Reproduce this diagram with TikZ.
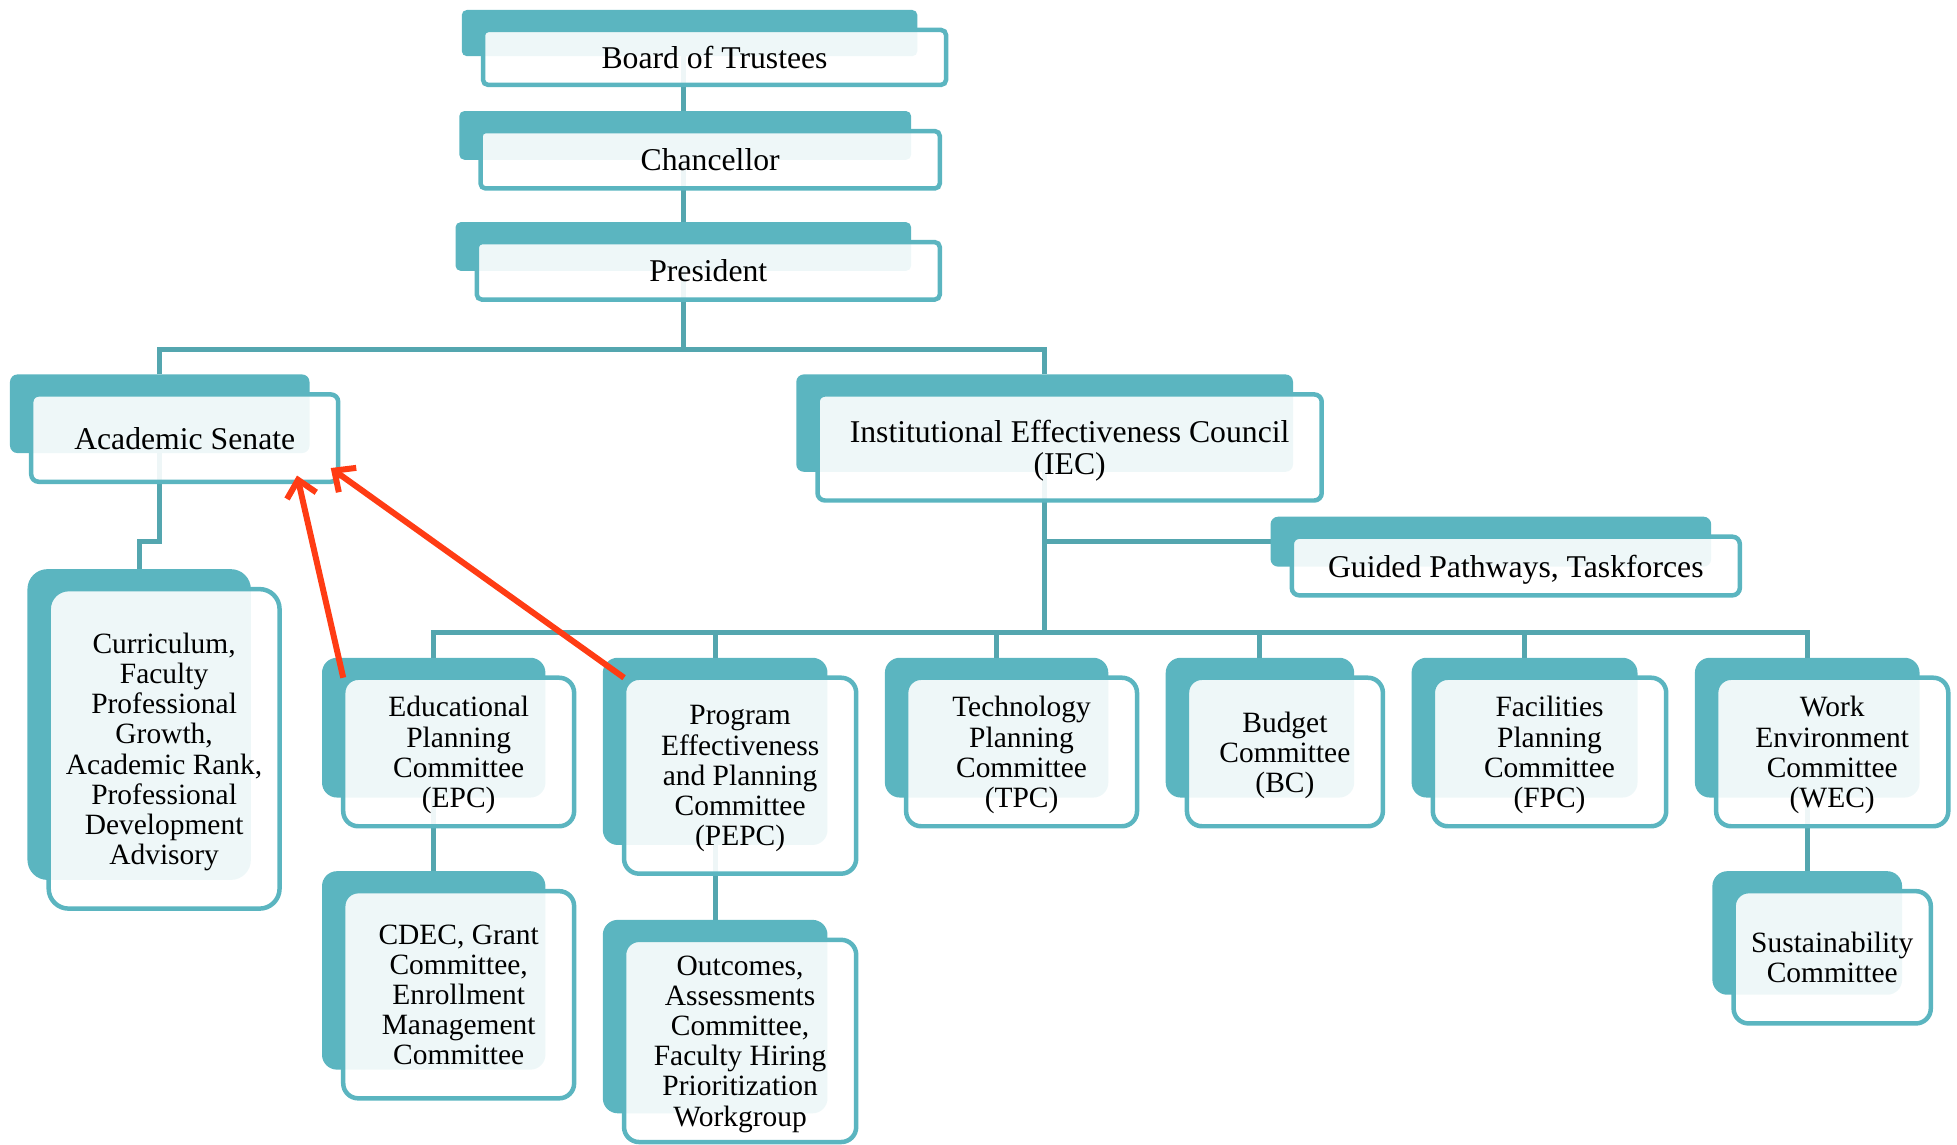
\documentclass[tikz,border=0pt]{standalone}
\usepackage{fontspec}
\setmainfont{Liberation Serif}
\usetikzlibrary{arrows.meta, positioning, fit, calc}
\definecolor{boxteal}{RGB}{91,181,192}
\definecolor{wireteal}{RGB}{84,166,175}
\definecolor{linkred}{RGB}{255,60,20}
\pgfdeclarelayer{wires}
\pgfdeclarelayer{backs}
\pgfsetlayers{wires,backs,main}
\tikzset{
    % Front boxes (white, lets the teal tab show through)
    frontbox/.style={draw=boxteal, line width=1.8pt, fill=white, fill opacity=0.9, text opacity=1,
        align=center, inner sep=0pt, outer sep=0pt, text depth=0pt, rounded corners=2pt,
        font=\fontsize{12.7pt}{13pt}\selectfont},
    committee/.style={frontbox, minimum height=59.5pt, rounded corners=6pt,
        font=\fontsize{11.8pt}{12.1pt}\selectfont},
    % Teal tab behind each box
    backbox/.style={fill=boxteal, inner sep=0pt, outer sep=0pt, rounded corners=2pt},
    backof/.style={fit={([shift={(-17,-16)}]#1.north west) ([shift={(-23,-23)}]#1.south east)}},
    % Connectors
    wire/.style={draw=wireteal, line width=2pt},
    link/.style={draw=linkred, line width=2.4pt, -{Straight Barb[length=6.5pt, width=12pt]}}
}
\begin{document}
\begin{tikzpicture}[x=0.5pt, y=-0.5pt]
        \useasboundingbox (0,0) rectangle (1568,917);

        % Top of the chart
        \node[frontbox, minimum width=185.5pt, minimum height=22pt] (board) at (572.5,46) {Board of Trustees};
        \node[frontbox, minimum width=184pt, minimum height=23pt] (chanc) at (569,128) {Chancellor};
        \node[frontbox, minimum width=185.5pt, minimum height=23pt] (pres) at (567.5,217) {President};

        % Academic Senate side
        \node[frontbox, minimum width=123pt, minimum height=35pt, rounded corners=3pt] (senate) at (148,351) {Academic Senate};
        \node[committee, minimum width=92.5pt, minimum height=128pt, rounded corners=8pt] (curric) at (131.5,600) {Curriculum,\\Faculty\\Professional\\Growth,\\Academic Rank,\\Professional\\Development\\Advisory};

        % Council side
        \node[frontbox, minimum width=202pt, minimum height=42.5pt, rounded corners=3pt] (iec) at (857,358.5) {Institutional Effectiveness Council\\(IEC)};
        \node[frontbox, minimum width=179.5pt, minimum height=23.5pt, rounded corners=3pt] (guided) at (1214.5,453.5) {Guided Pathways, Taskforces};

        % Committees - one row, tops aligned
        \node[committee, minimum width=92.5pt] (epc) at (367.5,602.5) {Educational\\Planning\\Committee\\(EPC)};
        \node[committee, minimum width=93pt, minimum height=78.5pt, right=20pt of epc.north east, anchor=north west] (pepc) {Program\\Effectiveness\\and Planning\\Committee\\(PEPC)};
        \node[committee, minimum width=92.5pt, right=20pt of pepc.north east, anchor=north west] (tpc) {Technology\\Planning\\Committee\\(TPC)};
        \node[committee, minimum width=78.5pt, right=20pt of tpc.north east, anchor=north west] (bc) {Budget\\Committee\\(BC)};
        \node[committee, minimum width=93.5pt, right=20pt of bc.north east, anchor=north west] (fpc) {Facilities\\Planning\\Committee\\(FPC)};
        \node[committee, minimum width=93pt, right=20pt of fpc.north east, anchor=north west] (wec) {Work\\Environment\\Committee\\(WEC)};

        % Sub-committees
        \node[committee, minimum width=92.5pt, minimum height=83pt, below=26pt of epc] (cdec) {CDEC, Grant\\Committee,\\Enrollment\\Management\\Committee};
        \node[committee, minimum width=93pt, minimum height=81pt, below=26.5pt of pepc] (outc) {Outcomes,\\Assessments\\Committee,\\Faculty Hiring\\Prioritization\\Workgroup};
        \node[committee, minimum width=79pt, minimum height=53pt, below=26pt of wec] (sust) {Sustainability\\Committee};

        % Teal tabs (behind the boxes)
        \begin{pgfonlayer}{backs}
            \node[backbox, backof=board] (boardB) {};
            \node[backbox, backof=chanc] (chancB) {};
            \node[backbox, backof=pres] (presB) {};
            \node[backbox, backof=senate, rounded corners=3pt] (senateB) {};
            \node[backbox, backof=curric, rounded corners=8pt] (curricB) {};
            \node[backbox, backof=iec, rounded corners=3pt] (iecB) {};
            \node[backbox, backof=guided, rounded corners=3pt] (guidedB) {};
            \node[backbox, backof=epc, rounded corners=6pt] (epcB) {};
            \node[backbox, backof=pepc, rounded corners=6pt] (pepcB) {};
            \node[backbox, backof=tpc, rounded corners=6pt] (tpcB) {};
            \node[backbox, backof=bc, rounded corners=6pt] (bcB) {};
            \node[backbox, backof=fpc, rounded corners=6pt] (fpcB) {};
            \node[backbox, backof=wec, rounded corners=6pt] (wecB) {};
            \node[backbox, backof=cdec, rounded corners=6pt] (cdecB) {};
            \node[backbox, backof=outc, rounded corners=6pt] (outcB) {};
            \node[backbox, backof=sust, rounded corners=6pt] (sustB) {};
        \end{pgfonlayer}

        % Connectors (under everything)
        \begin{pgfonlayer}{wires}
            \coordinate (topbus) at (presB.center |- 0,280);
            \coordinate (rowbus) at (iecB.center |- 0,507);
            \draw[wire] (presB.center |- boardB.center) -- (topbus);
            \draw[wire] (senateB.north) |- (topbus) -| (iecB.north);
            \draw[wire] (senateB.center) -- ++(0,102) -| (curricB.north);
            \draw[wire] (iecB.center) |- (guidedB.west);
            \draw[wire] (iecB.center) -- (rowbus);
            \draw[wire] (epcB.north) |- (rowbus) -| (wecB.north);
            \draw[wire] (pepcB.north) -- (pepcB.north |- rowbus);
            \draw[wire] (tpcB.north) -- (tpcB.north |- rowbus);
            \draw[wire] (bcB.north) -- (bcB.north |- rowbus);
            \draw[wire] (fpcB.north) -- (fpcB.north |- rowbus);
            \draw[wire] (epcB.center) -- (cdecB.north);
            \draw[wire] (pepcB.center) -- (outcB.north);
            \draw[wire] (wecB.center) -- (sustB.north);
        \end{pgfonlayer}

        % Reporting links back to the Senate
        \draw[link] (epc.north west) -- ([shift={(-33,-5)}]senate.south east);
        \draw[link] (pepc.north west) -- ([shift={(-6,-11)}]senate.south east);
\end{tikzpicture}
\end{document}
